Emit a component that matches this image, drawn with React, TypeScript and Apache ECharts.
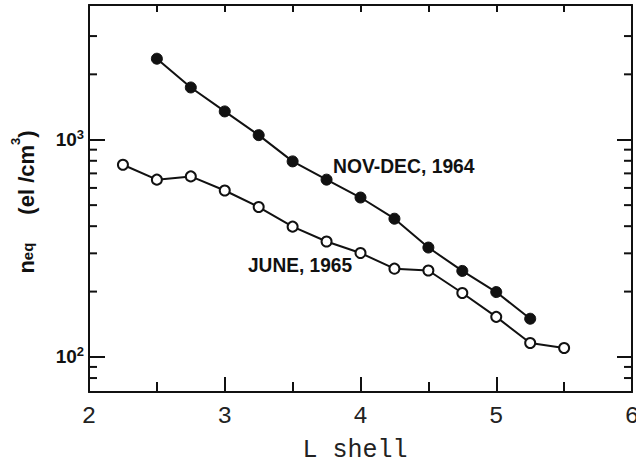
import React, { useEffect, useRef } from "react";
import * as echarts from "echarts";

// L shell positions and equatorial densities (el/cm^3)
const novDecL = [2.5, 2.75, 3.0, 3.25, 3.5, 3.75, 4.0, 4.25, 4.5, 4.75, 5.0, 5.25];
const novDecN = [2360, 1740, 1350, 1050, 795, 655, 542, 433, 319, 249, 199, 150];

const juneL = [2.25, 2.5, 2.75, 3.0, 3.25, 3.5, 3.75, 4.0, 4.25, 4.5, 4.75, 5.0, 5.25, 5.5];
const juneN = [767, 655, 678, 584, 490, 398, 340, 301, 255, 250, 197, 153, 116, 110];

const xTicks = [2, 3, 4, 5, 6];
const yMajorTicks = [100, 1000];
const yMinorTicks = [80, 90, 200, 300, 400, 500, 600, 700, 800, 900, 2000, 3000];

const seriesNames = ["NOV-DEC, 1964", "JUNE, 1965"];
const xTitle = "L shell";

const INK = "#111";
const SANS = "Liberation Sans, Arial, sans-serif";

export default function App() {
  const ref = useRef<HTMLDivElement>(null);

  useEffect(() => {
    if (!ref.current) return;
    const chart = echarts.init(ref.current, undefined, { renderer: "svg" });

    const pairs = (xs: number[], ys: number[]) => xs.map((x, i) => [x, ys[i]]);

    const yLabelFmt = (v: number) => {
      for (const m of yMajorTicks) {
        if (Math.abs(v - m) / m < 1e-6) {
          const e = Math.round(Math.log10(m));
          return `{b|10}{s|${e}}`;
        }
      }
      return "";
    };

    const xLabelFmt = (v: number) =>
      xTicks.some((t) => Math.abs(t - v) < 1e-9) ? String(v) : "";

    const option: any = {
      animation: false,
      backgroundColor: "#fff",
      grid: {
        left: 89,
        right: 4,
        top: 5,
        bottom: 73,
        containLabel: false,
        outerBoundsMode: "none",
      },
      xAxis: [
        {
          type: "value",
          min: 2,
          max: 6,
          interval: 1,
          position: "bottom",
          axisLine: { show: true, lineStyle: { color: INK, width: 2 } },
          axisTick: { show: true, inside: true, length: 15, lineStyle: { color: INK, width: 2 } },
          minorTick: { show: true, splitNumber: 2, length: 10, lineStyle: { color: INK, width: 2 } },
          splitLine: { show: false },
          axisLabel: {
            show: true,
            margin: 12,
            formatter: xLabelFmt,
            color: "#222",
            fontFamily: "Liberation Mono, DejaVu Sans Mono, monospace",
            fontSize: 24,
          },
        },
        {
          type: "value",
          min: 2,
          max: 6,
          interval: 1,
          position: "top",
          axisLine: { show: true, lineStyle: { color: INK, width: 2 } },
          axisTick: { show: true, inside: true, length: 7, lineStyle: { color: INK, width: 2 } },
          minorTick: { show: true, splitNumber: 2, length: 7, lineStyle: { color: INK, width: 2 } },
          splitLine: { show: false },
          axisLabel: { show: false },
        },
      ],
      yAxis: [
        {
          type: "log",
          logBase: 10,
          min: 69,
          max: 4170,
          position: "left",
          axisLine: { show: true, lineStyle: { color: INK, width: 2 } },
          axisTick: { show: true, inside: true, length: 16, lineStyle: { color: INK, width: 2 } },
          splitLine: { show: false },
          minorTick: { show: false },
          axisLabel: {
            show: true,
            margin: 5,
            showMinLabel: false,
            showMaxLabel: false,
            formatter: yLabelFmt,
            rich: {
              b: {
                fontSize: 19,
                fontWeight: "bold",
                fontFamily: SANS,
                color: INK,
                lineHeight: 24,
                padding: [7, 0, 7, 0],
              },
              s: {
                fontSize: 13,
                fontWeight: "bold",
                fontFamily: SANS,
                color: INK,
                lineHeight: 13,
                verticalAlign: "top",
              },
            },
          },
        },
        {
          type: "log",
          logBase: 10,
          min: 69,
          max: 4170,
          position: "right",
          axisLine: { show: true, lineStyle: { color: INK, width: 2 } },
          axisTick: { show: true, inside: true, length: 15, lineStyle: { color: INK, width: 2 } },
          splitLine: { show: false },
          minorTick: { show: false },
          axisLabel: { show: false },
        },
      ],
      graphic: [
        {
          type: "text",
          x: 333,
          y: 166,
          scaleX: 0.92,
          silent: true,
          style: {
            text: seriesNames[0],
            fontSize: 21,
            fontWeight: "bold",
            fontFamily: SANS,
            fill: INK,
            textAlign: "left",
            textVerticalAlign: "middle",
          },
        },
        {
          type: "text",
          x: 248,
          y: 265,
          scaleX: 0.91,
          silent: true,
          style: {
            text: seriesNames[1],
            fontSize: 21,
            fontWeight: "bold",
            fontFamily: SANS,
            fill: INK,
            textAlign: "left",
            textVerticalAlign: "middle",
          },
        },
        {
          type: "text",
          x: 355,
          y: 450,
          silent: true,
          style: {
            text: xTitle,
            fontSize: 25,
            fontFamily: "Liberation Mono, DejaVu Sans Mono, monospace",
            fill: "#222",
            textAlign: "center",
            textVerticalAlign: "middle",
          },
        },
        {
          type: "text",
          x: 22,
          y: 202,
          rotation: Math.PI / 2,
          silent: true,
          style: {
            text: "{n|n}{sub|eq}{g| }{p|(el /cm}{sup|3}{p|)}",
            textAlign: "center",
            textVerticalAlign: "middle",
            rich: {
              n: {
                fontSize: 22,
                fontWeight: "bold",
                fontFamily: SANS,
                fill: INK,
                lineHeight: 26,
                padding: [9, 0, 0, 0],
              },
              sub: {
                fontSize: 15,
                fontWeight: "bold",
                fontFamily: SANS,
                fill: INK,
                lineHeight: 15,
                verticalAlign: "bottom",
              },
              g: {
                width: 28,
                fontSize: 22,
                lineHeight: 26,
                padding: [9, 0, 0, 0],
              },
              p: {
                fontSize: 22,
                fontWeight: "bold",
                fontFamily: SANS,
                fill: INK,
                lineHeight: 26,
                padding: [9, 0, 0, 0],
              },
              sup: {
                fontSize: 13,
                fontWeight: "bold",
                fontFamily: SANS,
                fill: INK,
                lineHeight: 13,
                verticalAlign: "top",
              },
            },
          },
        },
      ],
      series: [
        {
          name: "minorTicksY",
          type: "custom",
          xAxisIndex: 0,
          yAxisIndex: 0,
          silent: true,
          clip: false,
          data: yMinorTicks.map((v) => [2, v]),
          encode: { x: 0, y: 1 },
          renderItem: (params: any, api: any) => {
            const v = api.value(1);
            const pL = api.coord([2, v]);
            const pR = api.coord([6, v]);
            return {
              type: "group",
              children: [
                {
                  type: "line",
                  shape: { x1: pL[0], y1: pL[1], x2: pL[0] + 8, y2: pL[1] },
                  style: { stroke: INK, lineWidth: 2 },
                },
                {
                  type: "line",
                  shape: { x1: pR[0] - 8, y1: pR[1], x2: pR[0], y2: pR[1] },
                  style: { stroke: INK, lineWidth: 2 },
                },
              ],
            };
          },
        },
        {
          name: seriesNames[0],
          type: "line",
          data: pairs(novDecL, novDecN),
          symbol: "circle",
          symbolSize: 11,
          lineStyle: { color: INK, width: 2 },
          itemStyle: { color: INK, borderColor: INK, borderWidth: 1 },
          z: 3,
        },
        {
          name: seriesNames[1],
          type: "line",
          data: pairs(juneL, juneN),
          symbol: "circle",
          symbolSize: 10,
          lineStyle: { color: INK, width: 2 },
          itemStyle: { color: "#fff", borderColor: INK, borderWidth: 2 },
          z: 3,
        },
      ],
    };

    chart.setOption(option);
    return () => chart.dispose();
  }, []);

  return (
    <div
      ref={ref}
      style={{ position: "fixed", left: 0, top: 0, width: 636, height: 465, background: "#fff" }}
    />
  );
}
